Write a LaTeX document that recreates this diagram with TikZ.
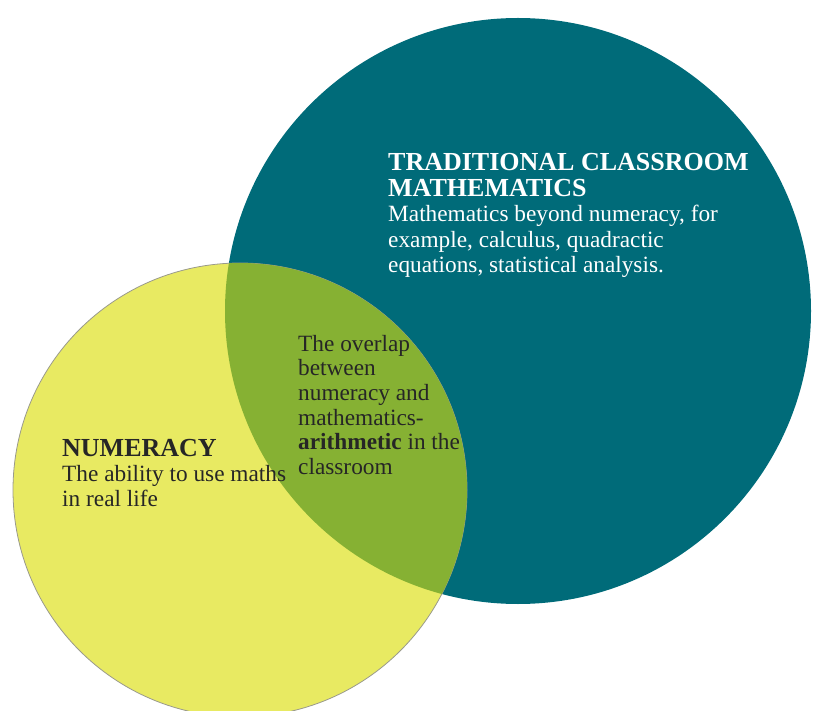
\documentclass[tikz,border=0pt]{standalone}
\usepackage{fontspec}
\setmainfont{Liberation Serif}
\usetikzlibrary{positioning}
\definecolor{numyellow}{HTML}{E8EA62}
\definecolor{mathteal}{HTML}{006B79}
\definecolor{overgreen}{HTML}{86B133}
\definecolor{rimgray}{HTML}{9A9A8C}
\tikzset{blocktext/.style = {anchor=north west, align=left, inner sep=0pt}}

\begin{document}
\begin{tikzpicture}[x=1pt, y=-1pt]
\useasboundingbox (0,0) rectangle (814,711);
\fill [mathteal] (518,311) circle (293);
\draw [rimgray, fill=numyellow, line width=0.8pt] (240,490) circle (227);
\begin{scope}
\clip (240,490) circle (227);
\fill [overgreen] (518,311) circle (293);
\end{scope}
\node [blocktext, text=white, font=\fontsize{26}{26}\selectfont\bfseries] (mathtitle) at (388,153)
  {TRADITIONAL CLASSROOM\\ MATHEMATICS};
\node [blocktext, text=white, font=\fontsize{23.3}{25.5}\selectfont] (mathbody) at (388,205)
  {Mathematics beyond numeracy, for\\ example, calculus, quadractic\\ equations, statistical analysis.};
\node [blocktext, text=black!85, font=\fontsize{23.3}{24.6}\selectfont] (overlaptext) at (298,335)
  {The overlap\\ between\\ numeracy and\\ mathematics-\\ \textbf{arithmetic} in the\\ classroom};
\node [blocktext, text=black!85, font=\fontsize{23.3}{25}\selectfont] (numtext) at (62,439)
  {{\fontsize{26}{25}\selectfont\bfseries NUMERACY}\\ The ability to use maths\\ in real life};
\end{tikzpicture}
\end{document}
